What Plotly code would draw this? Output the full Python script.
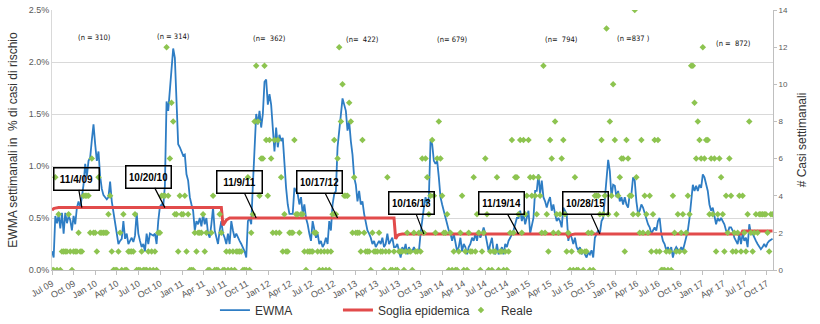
import pandas as pd
import plotly.graph_objects as go

# ---------------- data ----------------
season_n = ["(n = 310)", "(n = 314)", "(n=  362)", "(n=  422)", "(n= 679)",
            "(n=  794)", "(n =837 )", "(n =  872)"]

crossing_labels = ["11/4/09", "10/20/10", "11/9/11", "10/17/12", "10/16/13", "11/19/14", "10/28/15"]
crossing_dates = ["2009-11-04", "2010-10-20", "2011-11-09", "2012-10-17", "2013-10-16", "2014-11-19", "2015-10-28"]
crossing_levels = [0.60, 0.60, 0.50, 0.50, 0.345, 0.345, 0.345]

# EWMA weekly (% di casi di rischio), one list per season (Jul->Jun)
ewma_0910 = [0.18, 0.12, 0.52, 0.45, 0.53, 0.40, 0.55, 0.35, 0.55, 0.45,
             0.52, 0.48, 0.38, 0.52, 0.44, 0.60, 0.66, 0.60, 0.70, 0.82,
             1.02, 0.90, 1.05, 1.08, 1.25, 1.40, 1.21, 1.05, 1.14, 0.90,
             0.78, 0.72, 0.70, 0.68, 0.70, 0.85, 0.66, 0.55, 0.47, 0.32,
             0.25, 0.28, 0.30, 0.47, 0.30, 0.35, 0.25, 0.28, 0.31, 0.27,
             0.33, 0.55]
ewma_1011 = [0.35, 0.28, 0.22, 0.25, 0.18, 0.35, 0.25, 0.35, 0.34, 0.33,
             0.35, 0.25, 0.47, 0.61, 0.63, 0.61, 0.81, 1.62, 1.53, 1.75,
             1.91, 2.13, 2.04, 1.69, 1.21, 1.18, 1.14, 1.10, 1.11, 0.92,
             0.86, 0.70, 0.63, 0.57, 0.38, 0.47, 0.44, 0.50, 0.42, 0.54,
             0.44, 0.50, 0.35, 0.31, 0.44, 0.60, 0.38, 0.31, 0.25, 0.38,
             0.47, 0.35]
ewma_1112 = [0.31, 0.25, 0.35, 0.25, 0.47, 0.38, 0.31, 0.35, 0.31, 0.28,
             0.25, 0.22, 0.18, 0.12, 0.47, 0.50, 0.44, 0.82, 1.21, 1.50,
             1.40, 1.53, 1.37, 1.50, 1.81, 1.83, 1.59, 1.69, 1.59, 1.40,
             1.14, 1.37, 1.18, 1.30, 1.24, 1.27, 0.98, 0.79, 0.63, 0.54,
             0.54, 0.54, 0.79, 0.76, 0.73, 0.63, 0.70, 0.54, 0.63, 0.50,
             0.44, 0.35]
ewma_1213 = [0.28, 0.47, 0.38, 0.31, 0.35, 0.25, 0.28, 0.22, 0.25, 0.31,
             0.25, 0.47, 0.38, 0.63, 0.73, 0.76, 1.18, 1.34, 1.53, 1.65,
             1.59, 1.53, 1.34, 1.43, 1.24, 1.11, 0.89, 0.82, 0.66, 0.76,
             0.63, 0.66, 0.54, 0.47, 0.38, 0.35, 0.31, 0.25, 0.28, 0.22,
             0.25, 0.28, 0.25, 0.31, 0.22, 0.25, 0.35, 0.25, 0.28, 0.31,
             0.22, 0.22]
ewma_1314 = [0.25, 0.18, 0.12, 0.22, 0.18, 0.25, 0.15, 0.22, 0.18, 0.18,
             0.22, 0.18, 0.18, 0.18, 0.35, 0.50, 0.60, 0.70, 0.63, 0.70,
             1.24, 1.21, 1.05, 1.02, 1.05, 0.89, 0.70, 0.63, 0.57, 0.50,
             0.44, 0.38, 0.35, 0.28, 0.35, 0.25, 0.18, 0.22, 0.31, 0.18,
             0.25, 0.22, 0.15, 0.22, 0.25, 0.31, 0.28, 0.35, 0.28, 0.38,
             0.31, 0.35]
ewma_1415 = [0.41, 0.35, 0.28, 0.18, 0.25, 0.31, 0.18, 0.15, 0.25, 0.15,
             0.18, 0.22, 0.15, 0.25, 0.22, 0.28, 0.31, 0.35, 0.38, 0.44,
             0.50, 0.50, 0.57, 0.47, 0.54, 0.44, 0.50, 0.57, 0.35, 0.44,
             0.50, 0.76, 0.76, 0.92, 0.73, 0.86, 0.70, 0.66, 0.60, 0.66,
             0.70, 0.57, 0.63, 0.54, 0.47, 0.50, 0.47, 0.41, 0.60, 0.57,
             0.54, 0.28]
ewma_1516 = [0.35, 0.31, 0.25, 0.31, 0.22, 0.19, 0.22, 0.15, 0.19, 0.15,
             0.12, 0.17, 0.15, 0.19, 0.12, 0.31, 0.35, 0.38, 0.35, 0.47,
             0.50, 0.70, 0.95, 1.06, 0.95, 0.70, 0.82, 0.81, 0.70, 0.76,
             0.66, 0.70, 0.63, 0.70, 0.63, 0.60, 0.73, 0.73, 0.89, 0.86,
             0.66, 0.54, 0.57, 0.63, 0.60, 0.54, 0.50, 0.44, 0.41, 0.35,
             0.38, 0.41]
ewma_1617 = [0.38, 0.47, 0.50, 0.35, 0.28, 0.25, 0.19, 0.22, 0.17, 0.22,
             0.12, 0.19, 0.22, 0.19, 0.17, 0.22, 0.19, 0.25, 0.31, 0.38,
             0.50, 0.70, 0.82, 0.76, 0.81, 0.76, 0.82, 0.79, 0.92, 0.89,
             0.82, 0.76, 0.63, 0.57, 0.60, 0.50, 0.44, 0.50, 0.47, 0.50,
             0.47, 0.44, 0.38, 0.35, 0.41, 0.41, 0.38, 0.31, 0.28, 0.25,
             0.35, 0.25]
ewma_1718 = [0.35, 0.28, 0.31, 0.22, 0.44, 0.35, 0.35, 0.31, 0.28, 0.25,
             0.22, 0.20, 0.22, 0.25, 0.22, 0.26, 0.28, 0.29, 0.30]

# Soglia epidemica (%), per season
soglia_0910 = [0.575, 0.59, 0.595] + [0.60] * 49
soglia_1011 = [0.60] * 51 + [0.43]
soglia_1112 = [0.46, 0.48, 0.49] + [0.50] * 49
soglia_1213 = [0.50] * 51 + [0.30]
soglia_1314 = [0.33, 0.34] + [0.345] * 50
soglia_1415 = [0.345] * 51 + [0.32]
soglia_1516 = [0.335, 0.34] + [0.345] * 50
soglia_1617 = [0.345] * 52
soglia_1718 = [0.375] * 19

# Reale: weekly cases (# casi settimanali), per season
reale_0910 = [0, 0, 5, 0, 3, 0, 1, 1, 1, 1, 3, 1, 0, 1, 1, 1, 2, 1, 1, 4,
              4, 4, 4, 2, 6, 2, 2, 1, 5, 2, 2, 2, 2, 2, 3, 4, 1, 0, 0, 0,
              1, 2, 0, 3, 0, 0, 1, 1, 1, 1, 3, 0]
reale_1011 = [0, 0, 1, 0, 0, 0, 1, 0, 1, 0, 1, 0, 2, 2, 4, 4, 4, 12, 4, 6,
              9, 8, 3, 3, 1, 4, 3, 3, 4, 1, 3, 0, 0, 0, 2, 1, 2, 2, 2, 3,
              1, 2, 0, 0, 2, 4, 0, 0, 0, 3, 2, 0]
reale_1112 = [0, 1, 0, 1, 0, 1, 0, 1, 1, 1, 1, 0, 0, 0, 5, 0, 2, 3, 8, 11,
              8, 4, 6, 6, 11, 7, 4, 7, 6, 2, 7, 2, 7, 2, 5, 1, 3, 1, 1, 2,
              2, 2, 7, 3, 3, 2, 3, 3, 1, 0, 1, 1]
reale_1213 = [1, 1, 2, 2, 1, 0, 1, 0, 1, 0, 1, 0, 1, 3, 7, 3, 6, 12, 8, 10,
              4, 4, 4, 9, 8, 2, 5, 2, 2, 2, 1, 7, 2, 1, 1, 1, 0, 2, 1, 1,
              1, 2, 1, 1, 0, 1, 5, 1, 0, 0, 1, 0]
reale_1314 = [0, 1, 1, 1, 0, 1, 2, 1, 1, 0, 2, 1, 1, 2, 1, 6, 2, 6, 5, 3,
              4, 7, 4, 2, 6, 8, 6, 4, 2, 2, 3, 0, 2, 0, 1, 0, 0, 1, 2, 4,
              0, 1, 0, 2, 1, 1, 5, 1, 3, 2, 0, 1]
reale_1415 = [2, 6, 3, 0, 1, 0, 1, 1, 5, 0, 1, 1, 0, 1, 0, 1, 2, 7, 2, 5,
              5, 3, 7, 2, 7, 3, 4, 7, 5, 4, 5, 4, 3, 5, 4, 2, 11, 2, 3, 1,
              7, 6, 2, 8, 3, 2, 3, 6, 7, 3, 1, 2]
reale_1516 = [0, 1, 0, 5, 0, 0, 1, 1, 0, 1, 1, 2, 0, 2, 0, 4, 4, 4, 3, 7,
              3, 4, 13, 3, 8, 4, 10, 7, 3, 4, 5, 6, 6, 1, 7, 6, 4, 4, 3, 14,
              5, 3, 2, 7, 2, 4, 3, 2, 4, 1, 3, 7]
reale_1617 = [1, 7, 1, 0, 0, 0, 1, 0, 1, 0, 4, 2, 1, 3, 1, 2, 3, 1, 2, 4,
              3, 11, 11, 9, 6, 8, 7, 6, 12, 6, 7, 7, 3, 6, 3, 6, 1, 3, 6, 5,
              3, 1, 4, 2, 6, 4, 1, 2, 1, 2, 4, 1]
reale_1718 = [4, 2, 1, 3, 8, 2, 1, 2, 3, 2, 3, 3, 3, 3, 3, 2, 1, 3, 3]

ewma = (ewma_0910 + ewma_1011 + ewma_1112 + ewma_1213 + ewma_1314 +
        ewma_1415 + ewma_1516 + ewma_1617 + ewma_1718)
soglia = (soglia_0910 + soglia_1011 + soglia_1112 + soglia_1213 + soglia_1314 +
          soglia_1415 + soglia_1516 + soglia_1617 + soglia_1718)
reale = (reale_0910 + reale_1011 + reale_1112 + reale_1213 + reale_1314 +
         reale_1415 + reale_1516 + reale_1617 + reale_1718)

first_week = "2009-07-01"
w_ewma = pd.date_range(first_week, periods=len(ewma), freq="7D")
w_soglia = pd.date_range(first_week, periods=len(soglia), freq="7D")
w_reale = pd.date_range(first_week, periods=len(reale), freq="7D")

# ---------------- figure ----------------
BLUE = "#2E7DC4"
RED = "#E24B4B"
GREEN = "#8DC450"
GREY_TXT = "#595959"
FONT = "Liberation Sans, Arial, sans-serif"

fig = go.Figure()
fig.add_trace(go.Scatter(x=w_ewma, y=ewma, name="EWMA", mode="lines",
                         line=dict(color=BLUE, width=1.8)))
fig.add_trace(go.Scatter(x=w_soglia, y=soglia, name="Soglia epidemica", mode="lines",
                         line=dict(color=RED, width=3)))
fig.add_trace(go.Scatter(x=w_reale, y=reale, name="Reale", mode="markers", yaxis="y2",
                         marker=dict(symbol="diamond", size=5, color=GREEN)))

# season sample-size labels
n_pos = [("2009-12-29", 2.24), ("2010-11-25", 2.25), ("2012-01-04", 2.23),
         ("2013-02-01", 2.22), ("2014-02-13", 2.22), ("2015-05-19", 2.22),
         ("2016-03-17", 2.23), ("2017-05-13", 2.18)]
for txt, (xd, yv) in zip(season_n, n_pos):
    fig.add_annotation(x=xd, y=yv, text=txt.replace("  ", " &nbsp;"), showarrow=False,
                       font=dict(size=7.5, color="#111111",
                                 family="Liberation Sans Narrow, DejaVu Sans Condensed, sans-serif"))

# crossing call-outs
offsets = [(-5, -29), (-16, -31), (-17, -36), (-18, -36), (-12, -31), (-17, -31), (-14, -31)]
for lab, xd, lev, (ax, ay) in zip(crossing_labels, crossing_dates, crossing_levels, offsets):
    fig.add_annotation(x=xd, y=lev, text="<b>" + lab + "</b>", showarrow=True,
                       arrowhead=0, arrowwidth=1.2, arrowcolor="black",
                       ax=ax, ay=ay, bordercolor="black", borderwidth=1.5, borderpad=3,
                       width=38, height=15,
                       font=dict(size=10, color="black", family=FONT))

fig.update_layout(
    width=820, height=324,
    margin=dict(l=52, r=47, t=10, b=54, autoexpand=False),
    paper_bgcolor="white", plot_bgcolor="white",
    font=dict(family=FONT, color=GREY_TXT),
    showlegend=True,
    legend=dict(orientation="h", x=0.226, xanchor="left", y=-0.154, yanchor="middle",
                font=dict(size=12, color="#333333"), entrywidth=78, entrywidthmode="pixels",
                bgcolor="rgba(0,0,0,0)"),
    xaxis=dict(type="date", range=["2009-07-01", "2017-10-27"],
               tick0="2009-07-01", dtick="M3", tickformat="%b %y", tickangle=-30,
               ticks="outside", ticklen=4, tickcolor="#BFBFBF",
               showline=True, linecolor="#BFBFBF", showgrid=False, zeroline=False,
               tickfont=dict(size=9, color=GREY_TXT)),
    yaxis=dict(range=[0, 2.5], dtick=0.5, tickformat=".1f", ticksuffix="%",
               showgrid=True, gridcolor="#D9D9D9", gridwidth=1,
               showline=True, linecolor="#D9D9D9", zeroline=False,
               tickfont=dict(size=9, color=GREY_TXT),
               title=dict(text="EWMA settimanali in  % di casi di rischio",
                          font=dict(size=12, color="#333333"), standoff=8)),
    yaxis2=dict(overlaying="y", side="right", range=[0, 14], dtick=2,
                showgrid=False, zeroline=False, showline=True, linecolor="#BFBFBF",
                ticks="outside", ticklen=3, tickcolor="#BFBFBF",
                tickfont=dict(size=8, color=GREY_TXT),
                title=dict(text="# Casi settimanali", font=dict(size=12, color="#333333"),
                           standoff=10)),
)

fig.write_html("out.html")
